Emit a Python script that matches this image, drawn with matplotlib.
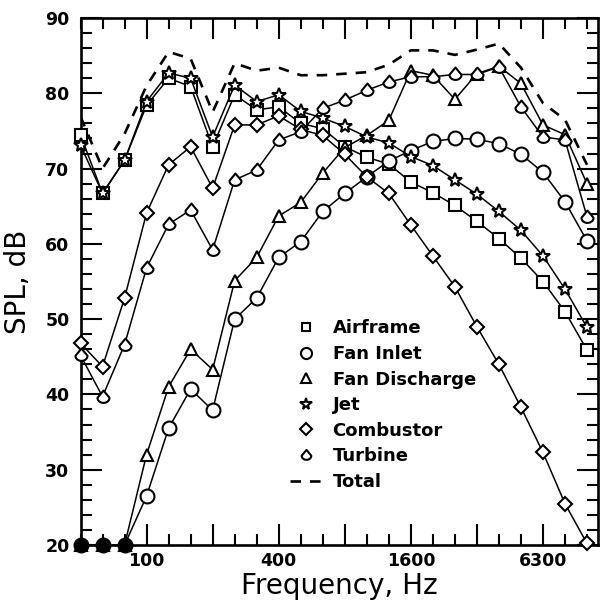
import numpy as np
import matplotlib
matplotlib.use("Agg")
import matplotlib.pyplot as plt
from matplotlib.lines import Line2D
from matplotlib.path import Path
from matplotlib.ticker import FixedLocator, FixedFormatter

# 1/3-octave band centre frequencies (Hz)
freqs = [50, 63, 80, 100, 125, 160, 200, 250, 315, 400, 500, 630, 800, 1000,
         1250, 1600, 2000, 2500, 3150, 4000, 5000, 6300, 8000, 10000]

airframe = [74.5, 66.7, 71.1, 78.4, 82.0, 80.9, 72.9, 79.8, 77.8, 78.2, 76.0, 75.3,
            72.9, 71.5, 70.6, 68.2, 66.8, 65.1, 63.0, 60.7, 58.1, 55.0, 51.0, 45.9]
fan_inlet = [20, 20, 20, 26.5, 35.5, 40.7, 37.9, 50.0, 52.8, 58.2, 60.3, 64.3,
             66.7, 68.9, 71.0, 72.4, 73.6, 74.0, 73.9, 73.3, 71.9, 69.5, 65.6, 60.4]
fan_discharge = [20, 20, 20, 32.0, 41.0, 46.0, 43.3, 55.1, 58.2, 63.7, 65.5, 69.4,
                 72.8, 74.4, 76.4, 83.0, 82.4, 79.2, 82.6, 83.6, 81.3, 75.8, 74.5, 68.0]
jet = [73.1, 66.7, 71.1, 78.9, 82.7, 82.0, 74.2, 81.1, 78.9, 79.8, 77.6, 76.7,
       75.6, 74.2, 73.4, 71.6, 70.4, 68.5, 66.6, 64.3, 61.8, 58.4, 54.0, 48.9]
combustor = [46.8, 43.7, 52.8, 64.1, 70.5, 72.9, 67.4, 75.8, 75.8, 77.0, 75.2, 74.4,
             71.9, 68.9, 66.7, 62.5, 58.4, 54.3, 49.0, 44.0, 38.3, 32.3, 25.5, 20.2]
turbine = [45.2, 39.7, 46.6, 56.8, 62.6, 64.5, 59.2, 68.5, 69.8, 73.8, 74.9, 78.0,
           79.1, 80.4, 81.5, 82.2, 82.2, 82.5, 82.5, 83.5, 78.2, 74.2, 73.8, 63.6]
total = [76.9, 70.0, 74.6, 81.0, 85.5, 84.6, 77.5, 84.0, 83.0, 83.4, 82.4, 82.4,
         82.6, 82.8, 83.8, 85.7, 85.7, 85.1, 85.8, 86.6, 83.4, 78.7, 76.5, 70.5]

labelled_freqs = [100, 400, 1600, 6300]
long_tick_freqs = [100, 200, 400, 800, 1600, 3150, 6300]

series_names = ["Airframe", "Fan Inlet", "Fan Discharge", "Jet", "Combustor", "Turbine"]

# custom "turbine" marker: cone with a rounded bottom
t = np.linspace(np.pi, 2 * np.pi, 14)
verts = [(0.0, 1.15)] + [(np.cos(a), 0.85 * np.sin(a) - 0.05) for a in t] + [(0.0, 1.15)]
codes = [Path.MOVETO] + [Path.LINETO] * (len(verts) - 2) + [Path.CLOSEPOLY]
turb_marker = Path(verts, codes)

styles = {
    "Airframe": dict(marker="s", ms=8),
    "Fan Inlet": dict(marker="o", ms=10),
    "Fan Discharge": dict(marker="^", ms=9),
    "Jet": dict(marker="*", ms=10.5),
    "Combustor": dict(marker="D", ms=7.5),
    "Turbine": dict(marker=turb_marker, ms=10),
}
data = {
    "Airframe": airframe, "Fan Inlet": fan_inlet, "Fan Discharge": fan_discharge,
    "Jet": jet, "Combustor": combustor, "Turbine": turbine,
}

fig = plt.figure(figsize=(6.09, 6.16), dpi=100)
ax = fig.add_axes([80.5 / 609, 1 - 545 / 616, 517.5 / 609, 527 / 616])

x = np.arange(len(freqs))

# total (dashed)
ax.plot(x, total, color="k", lw=1.9, ls=(0, (4.0, 3.4)), zorder=2)

for name in series_names:
    st = styles[name]
    y = np.array(data[name], dtype=float)
    ax.plot(x, y, color="k", lw=1.1, marker=st["marker"], ms=st["ms"],
            mfc="white", mec="k", mew=1.5, clip_on=False, zorder=3)
    mask = y <= 20.0
    if name in ("Fan Inlet", "Fan Discharge") and mask.any():
        ax.plot(x[mask], y[mask], ls="none", marker="o", ms=8, mfc="k", mec="k",
                clip_on=False, zorder=4)

ax.set_xlim(0, 23.5)
ax.set_ylim(20, 90)

major_idx = [freqs.index(f) for f in long_tick_freqs]
minor_idx = [i for i in range(len(freqs)) if i not in major_idx]
ax.xaxis.set_major_locator(FixedLocator(major_idx))
ax.xaxis.set_major_formatter(FixedFormatter(
    [str(f) if f in labelled_freqs else "" for f in long_tick_freqs]))
ax.xaxis.set_minor_locator(FixedLocator(minor_idx))
ax.set_yticks(np.arange(20, 91, 10))
ax.set_yticks(np.arange(20, 91, 2), minor=True)

ax.tick_params(which="both", direction="in", top=True, right=True, width=1.5)
ax.tick_params(which="major", length=15)
ax.tick_params(which="minor", length=8)
ax.tick_params(axis="y", which="major", pad=8)
ax.tick_params(axis="x", which="major", pad=5)
for lab in ax.get_xticklabels() + ax.get_yticklabels():
    lab.set_fontsize(12.5)
    lab.set_fontweight("bold")

for sp in ax.spines.values():
    sp.set_linewidth(1.9)

ax.set_xlabel("Frequency, Hz", fontsize=20)
ax.set_ylabel("SPL, dB", fontsize=20)
ax.xaxis.set_label_coords(0.5, -0.052)
ax.yaxis.set_label_coords(-0.094, 0.5)

handles = []
for name in series_names:
    st = styles[name]
    handles.append(Line2D([], [], ls="none", marker=st["marker"], ms=st["ms"] * 0.8,
                          mfc="white", mec="k", mew=1.5, color="k"))
handles.append(Line2D([], [], color="k", lw=1.9, ls=(0, (4.0, 3.4))))
leg = ax.legend(handles, series_names + ["Total"], loc="upper left",
                bbox_to_anchor=(0.405, 0.428), frameon=False, borderpad=0,
                borderaxespad=0, handlelength=1.75, handletextpad=0.6,
                labelspacing=0.42, prop=dict(size=13, weight="bold"))

fig.savefig("out.png", dpi=100)
